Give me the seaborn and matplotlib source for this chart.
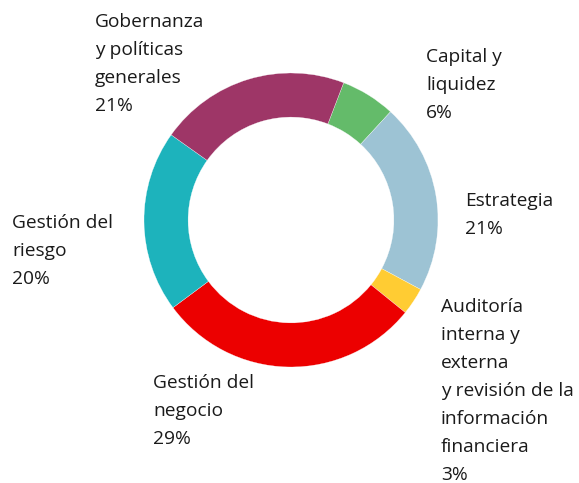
import matplotlib
matplotlib.use("Agg")
import matplotlib.pyplot as plt
import seaborn as sns

# Data (clockwise from the green slice)
labels = ['Capital y\nliquidez', 'Estrategia',
          'Auditoría\ninterna y\nexterna\ny revisión de la\ninformación\nfinanciera',
          'Gestión del\nnegocio', 'Gestión del\nriesgo',
          'Gobernanza\ny políticas\ngenerales']
values = [6, 21, 3, 29, 20, 21]
colors = ['#64BB6A', '#9DC3D4', '#FFCC33', '#EC0000', '#1DB3BC', '#9E3667']

sns.set_style('white')
plt.rcParams['font.family'] = ['Open Sans', 'DejaVu Sans']

W, H = 579, 483
fig = plt.figure(figsize=(W / 100, H / 100), dpi=100)
ax = fig.add_axes([0, 0, 1, 1])

cx, cy, R = 291, H - 220, 147
ax.pie(values, colors=colors, startangle=69, counterclock=False,
       center=(cx, cy), radius=R, frame=True,
       wedgeprops=dict(width=R * 0.30, edgecolor='white', linewidth=0.2))
ax.set_xlim(0, W)
ax.set_ylim(0, H)
ax.set_aspect('equal')
ax.axis('off')

# label anchor (x, top of first line) in pixels from top-left
label_pos = [(426, 48), (465, 192), (441, 298), (153, 374), (12, 214), (95, 13)]
for lab, v, (x, y) in zip(labels, values, label_pos):
    ax.text(x, H - y, f'{lab}\n{v}%', ha='left', va='top',
            fontsize=13.8, color='#1a1a1a', linespacing=1.72)

fig.savefig('out.png', dpi=100)
